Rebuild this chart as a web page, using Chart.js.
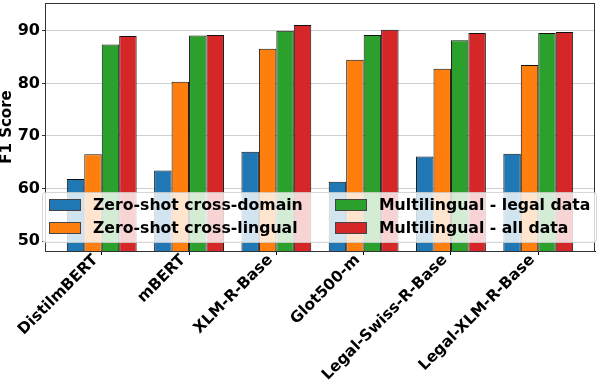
<!DOCTYPE html>
<html><head><meta charset="utf-8">
<script src="https://cdn.jsdelivr.net/npm/chart.js@4.4.1/dist/chart.umd.min.js"></script>
<style>html,body{margin:0;padding:0;background:#fff}canvas{display:block}</style>
</head><body>
<canvas id="c" width="600" height="392"></canvas>
<script>
const categories = ["DistilmBERT","mBERT","XLM-R-Base","Glot500-m","Legal-Swiss-R-Base","Legal-XLM-R-Base"];
const seriesNames = ["Zero-shot cross-domain","Zero-shot cross-lingual","Multilingual - legal data","Multilingual - all data"];
const zeroShotDomain  = [61.8, 63.4, 67.0, 61.3, 66.1, 66.6];
const zeroShotLingual = [66.5, 80.3, 86.6, 84.5, 82.8, 83.5];
const multiLegal      = [87.4, 89.1, 90.0, 89.2, 88.2, 89.6];
const multiAll        = [89.0, 89.2, 91.1, 90.2, 89.6, 89.8];
const yTicks = [50, 60, 70, 80, 90];
const colors = ["#1f77b4", "#ff7f0e", "#2ca02c", "#d62728"];

const FONT = "'DejaVu Sans', sans-serif";
const seriesValues = [zeroShotDomain, zeroShotLingual, multiLegal, multiAll];

const datasets = seriesValues.map((vals, k) => ({
  label: seriesNames[k],
  data: vals.map((v, i) => ({x: i, y: v})),
  backgroundColor: colors[k],
  borderColor: "#111",
  borderWidth: 1,
  categoryPercentage: 0.8,
  barPercentage: 1.0
}));

const framePlugin = {
  id: "frameAndLegend",
  afterDatasetsDraw(chart) {
    const ctx = chart.ctx, a = chart.chartArea;
    ctx.save();
    ctx.strokeStyle = "#333";
    ctx.lineWidth = 1;
    ctx.strokeRect(Math.round(a.left) + 0.5, Math.round(a.top) + 0.5,
                   Math.round(a.right - a.left) - 1, Math.round(a.bottom - a.top));
    // legend inside plot, lower part
    const lx = a.left - 2.5, ly = 192.5, lw = (a.right - a.left) + 4, lh = 50;
    const r = 3;
    ctx.beginPath();
    ctx.moveTo(lx + r, ly);
    ctx.lineTo(lx + lw - r, ly); ctx.quadraticCurveTo(lx + lw, ly, lx + lw, ly + r);
    ctx.lineTo(lx + lw, ly + lh - r); ctx.quadraticCurveTo(lx + lw, ly + lh, lx + lw - r, ly + lh);
    ctx.lineTo(lx + r, ly + lh); ctx.quadraticCurveTo(lx, ly + lh, lx, ly + lh - r);
    ctx.lineTo(lx, ly + r); ctx.quadraticCurveTo(lx, ly, lx + r, ly);
    ctx.closePath();
    ctx.fillStyle = "rgba(255,255,255,0.8)";
    ctx.fill();
    ctx.strokeStyle = "rgba(204,204,204,0.8)";
    ctx.lineWidth = 1;
    ctx.stroke();
    const colX = [lx + 6.5, lx + 292.5];
    const rowY = [205, 228];
    ctx.font = "bold 15.7px " + FONT;
    ctx.textBaseline = "middle";
    ctx.textAlign = "left";
    for (let k = 0; k < seriesNames.length; k++) {
      const c = Math.floor(k / 2), rr = k % 2;
      const px = Math.round(colX[c]) + 0.5, py = Math.round(rowY[rr] - 6) + 0.5;
      ctx.fillStyle = colors[k];
      ctx.fillRect(px, py, 31, 11);
      ctx.strokeStyle = "#444";
      ctx.strokeRect(px, py, 31, 11);
      ctx.fillStyle = "#000";
      ctx.fillText(seriesNames[k], colX[c] + 44, rowY[rr] + 1);
    }
    ctx.restore();
  }
};

new Chart(document.getElementById("c"), {
  type: "bar",
  data: { datasets },
  plugins: [framePlugin],
  options: {
    responsive: false,
    animation: false,
    devicePixelRatio: 1,
    layout: { padding: { top: 3, right: 5, left: 0, bottom: 0 } },
    plugins: { legend: { display: false }, tooltip: { enabled: false } },
    scales: {
      x: {
        type: "linear",
        offset: false,
        min: -0.65,
        max: 5.65,
        afterBuildTicks: s => { s.ticks = categories.map((c, i) => ({ value: i })); },
        afterFit: s => { s.height = 141; s.paddingLeft = 0; s.paddingRight = 0; },
        grid: { offset: false, drawOnChartArea: false, drawTicks: true, tickLength: 4, tickColor: "#000", color: "#000" },
        border: { display: true, color: "#000", width: 1 },
        ticks: {
          autoSkip: false,
          minRotation: 45, maxRotation: 45,
          padding: -4,
          labelOffset: -6,
          color: "#000",
          font: { family: FONT, size: 15.5, weight: "bold" },
          callback: v => categories[v]
        }
      },
      y: {
        min: 48.1,
        max: 95.3,
        afterBuildTicks: s => { s.ticks = yTicks.map(v => ({ value: v })); },
        afterFit: s => { s.width = 45; s.paddingTop = 0; s.paddingBottom = 0; },
        grid: { color: "#cfcfcf", lineWidth: 1, tickLength: 3, tickColor: "#333" },
        border: { display: true, color: "#000", width: 1 },
        ticks: {
          padding: 2,
          color: "#000",
          font: { family: FONT, size: 16, weight: "bold" }
        },
        title: {
          display: true,
          text: "F1 Score",
          color: "#000",
          padding: { top: 0, bottom: 0 },
          font: { family: FONT, size: 15, weight: "bold", lineHeight: 1.0 }
        }
      }
    }
  }
});
</script>
</body></html>
